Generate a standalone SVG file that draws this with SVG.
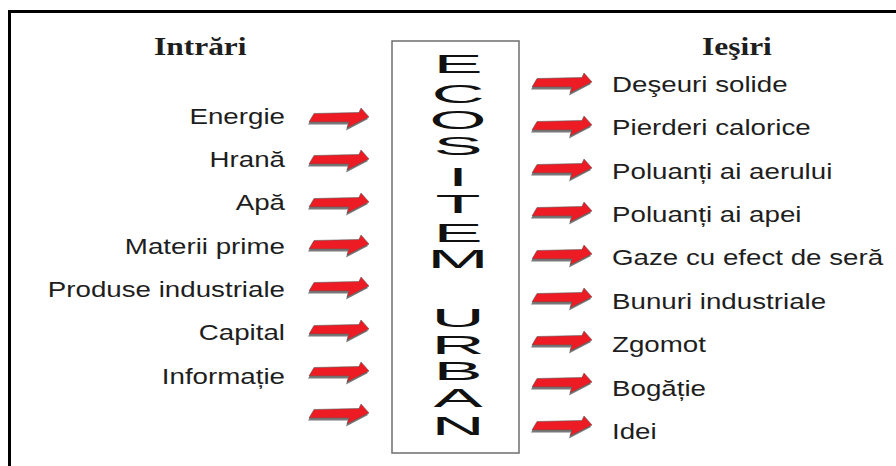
<svg xmlns="http://www.w3.org/2000/svg" xmlns:xlink="http://www.w3.org/1999/xlink" width="896" height="466" viewBox="0 0 896 466">
<style>
.lbl{font-family:"Liberation Sans",Arial,sans-serif;font-size:22px;fill:#1e1e1e}
.hd{font-family:"Liberation Serif","Times New Roman",serif;font-size:26px;font-weight:bold;fill:#1e1e1e}
.vl{font-family:"Liberation Sans",Arial,sans-serif;font-size:25px;fill:#111;text-anchor:middle}
.frame{stroke:#000;stroke-width:3;fill:none}
</style>
<defs>
<g id="arr">
<polygon points="-1,16.5 4,8 49,7 51,2.5 59,11 37,22.5 39,16.5" fill="#7a7a7a"/>
<polygon points="0,14 5,5.5 50,4.5 52,0 60,9 38,20 40,14" fill="#ed1c24" stroke="#5a5a5a" stroke-width="0.6" stroke-linejoin="round"/>
</g>
</defs>
<rect width="896" height="466" fill="#fff"/>
<path class="frame" d="M9.5,466 V11.5 H896"/>

<g id="headings">
<text class="hd" transform="translate(154,55) scale(1.21,1)">Intrări</text>
<text class="hd" transform="translate(702,55) scale(1.21,1)">Ieşiri</text>
</g>

<g id="ecosistem">
<rect x="392" y="41" width="127" height="412" fill="#fff" stroke="#6e6e6e" stroke-width="1.5"/>
<text class="vl" transform="translate(458,73) scale(2.95,1)">E</text>
<text class="vl" transform="translate(458,103) scale(2.95,1)">C</text>
<text class="vl" transform="translate(458,129) scale(2.95,1)">O</text>
<text class="vl" transform="translate(458,155) scale(2.95,1)">S</text>
<text class="vl" transform="translate(458,186) scale(2.95,1)">I</text>
<text class="vl" transform="translate(458,213) scale(2.95,1)">T</text>
<text class="vl" transform="translate(458,242) scale(2.95,1)">E</text>
<text class="vl" transform="translate(458,268) scale(2.95,1)">M</text>
<text class="vl" transform="translate(458,327) scale(2.95,1)">U</text>
<text class="vl" transform="translate(458,354) scale(2.95,1)">R</text>
<text class="vl" transform="translate(458,380) scale(2.95,1)">B</text>
<text class="vl" transform="translate(458,407) scale(2.95,1)">A</text>
<text class="vl" transform="translate(458,435) scale(2.95,1)">N</text>
</g>

<g id="inputs" text-anchor="end">
<text class="lbl" transform="translate(285,124) scale(1.26,1)">Energie</text>
<text class="lbl" transform="translate(285,167) scale(1.26,1)">Hrană</text>
<text class="lbl" transform="translate(285,210) scale(1.26,1)">Apă</text>
<text class="lbl" transform="translate(285,254) scale(1.26,1)">Materii prime</text>
<text class="lbl" transform="translate(285,297) scale(1.26,1)">Produse industriale</text>
<text class="lbl" transform="translate(285,340) scale(1.26,1)">Capital</text>
<text class="lbl" transform="translate(285,384) scale(1.26,1)">Informație</text>
</g>

<g id="outputs">
<text class="lbl" transform="translate(612,92) scale(1.26,1)">Deşeuri solide</text>
<text class="lbl" transform="translate(612,135) scale(1.26,1)">Pierderi calorice</text>
<text class="lbl" transform="translate(612,179) scale(1.26,1)">Poluanți ai aerului</text>
<text class="lbl" transform="translate(612,222) scale(1.26,1)">Poluanți ai apei</text>
<text class="lbl" transform="translate(612,265) scale(1.26,1)">Gaze cu efect de seră</text>
<text class="lbl" transform="translate(612,309) scale(1.26,1)">Bunuri industriale</text>
<text class="lbl" transform="translate(612,352) scale(1.26,1)">Zgomot</text>
<text class="lbl" transform="translate(612,396) scale(1.26,1)">Bogăție</text>
<text class="lbl" transform="translate(612,439) scale(1.26,1)">Idei</text>
</g>

<g id="connectors">
<use xlink:href="#arr" x="309" y="108"/>
<use xlink:href="#arr" x="309" y="150"/>
<use xlink:href="#arr" x="309" y="193"/>
<use xlink:href="#arr" x="309" y="235"/>
<use xlink:href="#arr" x="309" y="277"/>
<use xlink:href="#arr" x="309" y="320"/>
<use xlink:href="#arr" x="309" y="362"/>
<use xlink:href="#arr" x="309" y="404"/>
<use xlink:href="#arr" x="532" y="73"/>
<use xlink:href="#arr" x="532" y="116"/>
<use xlink:href="#arr" x="532" y="159"/>
<use xlink:href="#arr" x="532" y="202"/>
<use xlink:href="#arr" x="532" y="245"/>
<use xlink:href="#arr" x="532" y="288"/>
<use xlink:href="#arr" x="532" y="331"/>
<use xlink:href="#arr" x="532" y="373"/>
<use xlink:href="#arr" x="532" y="416"/>
</g>
</svg>
